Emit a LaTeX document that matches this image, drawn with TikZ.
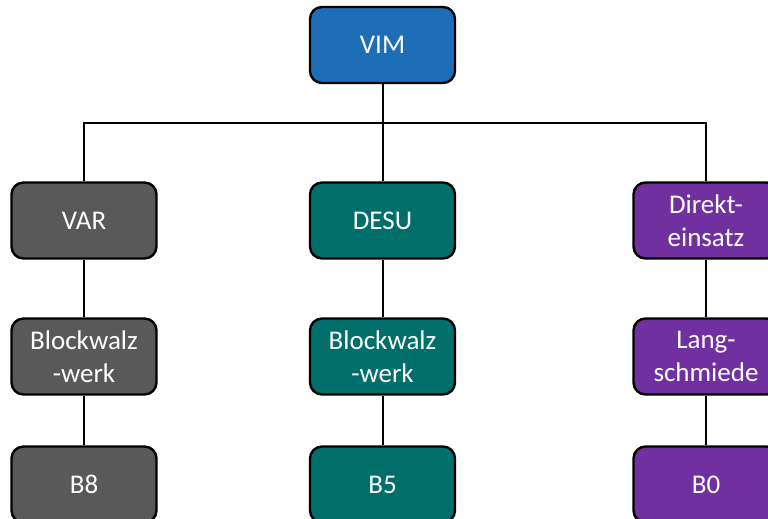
\documentclass[tikz,border=0pt]{standalone}
\usepackage{fontspec}
\setmainfont{Carlito}
\definecolor{cblue}{HTML}{1E6DB7}
\definecolor{cgray}{HTML}{595959}
\definecolor{cteal}{HTML}{006E6B}
\definecolor{cpurple}{HTML}{7030A0}
\tikzset{
  box/.style={draw=black, line width=2.4pt, rounded corners=12pt, minimum width=145pt, minimum height=76pt,
    text=white, align=center, inner sep=0pt, font=\fontsize{27}{33}\selectfont},
  conn/.style={draw=black, line width=2pt}
}
\begin{document}
\begin{tikzpicture}[x=1pt,y=-1pt]
\clip (0,0) rectangle (768,519);
\fill[white] (0,0) rectangle (768,519);
\node[box, fill=cblue] (vim) at (382.5,45) {VIM};
\node[box, fill=cgray] (var) at (84,220.5) {VAR};
\node[box, fill=cteal] (desu) at (382.5,220.5) {DESU};
\node[box, fill=cpurple] (dir) at (706,220.5) {Direkt-\\einsatz};
\node[box, fill=cgray] (bw1) at (84,356.5) {Blockwalz\\-werk};
\node[box, fill=cteal] (bw2) at (382.5,356.5) {Blockwalz\\-werk};
\node[box, fill=cpurple] (ls) at (706,356.5) {Lang-\\schmiede};
\node[box, fill=cgray] (b8) at (84,484.5) {B8};
\node[box, fill=cteal] (b5) at (382.5,484.5) {B5};
\node[box, fill=cpurple] (b0) at (706,484.5) {B0};
\coordinate (j) at (382.5,123);
\draw[conn] (vim.south) -- (desu.north);
\draw[conn] (var.north) -- (var.north |- j) -- (dir.north |- j) -- (dir.north);
\draw[conn] (var.south) -- (bw1.north);
\draw[conn] (bw1.south) -- (b8.north);
\draw[conn] (desu.south) -- (bw2.north);
\draw[conn] (bw2.south) -- (b5.north);
\draw[conn] (dir.south) -- (ls.north);
\draw[conn] (ls.south) -- (b0.north);
\end{tikzpicture}
\end{document}
